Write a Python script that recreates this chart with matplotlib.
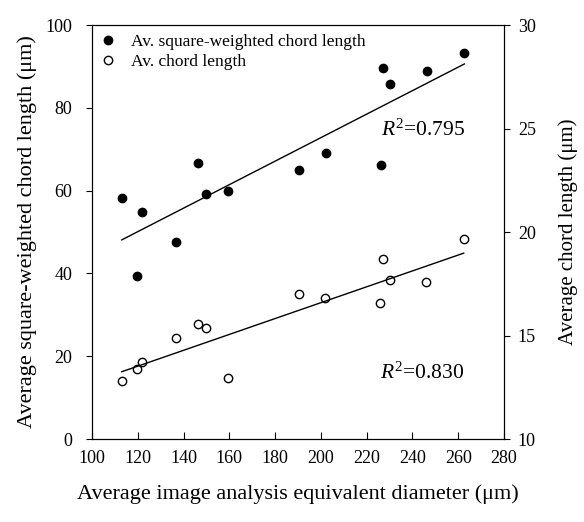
import numpy as np
import matplotlib
matplotlib.use("Agg")
import matplotlib.pyplot as plt

plt.rcParams['font.family'] = ['Liberation Serif', 'DejaVu Serif']
plt.rcParams['mathtext.fontset'] = 'custom'
plt.rcParams['mathtext.rm'] = 'Liberation Serif'
plt.rcParams['mathtext.it'] = 'Liberation Serif:italic'

# Data
diam_sq = [113.0, 119.7, 122.0, 136.6, 146.3, 149.8, 159.4, 190.4, 202.1, 226.1, 227.1, 230.2, 246.3, 262.7]
sq_chord = [58.1, 39.4, 54.8, 47.5, 66.7, 59.1, 60.0, 65.0, 69.2, 66.3, 89.7, 85.7, 89.0, 93.3]

diam_ch = [113.0, 119.7, 122.0, 136.6, 146.3, 149.8, 159.4, 190.4, 202.0, 226.0, 227.0, 230.0, 246.0, 262.4]
chord = [12.8, 13.38, 13.72, 14.86, 15.56, 15.35, 12.95, 16.99, 16.83, 16.55, 18.68, 17.67, 17.6, 19.66]

# Fit line endpoints (x, y)
fit_sq_x = [113.0, 262.7]
fit_sq_y = [48.1, 90.6]
fit_ch_x = [113.0, 262.4]
fit_ch_y = [13.25, 18.98]

r2_labels = ['$R^2$=0.795', '$R^2$=0.830']
xticks = [100, 120, 140, 160, 180, 200, 220, 240, 260, 280]
yticks_left = [0, 20, 40, 60, 80, 100]
yticks_right = [10, 15, 20, 25, 30]

fig = plt.figure(figsize=(5.84, 5.22), dpi=100)
ax = fig.add_axes([0.1575, 0.159, 0.863 - 0.1575, 0.952 - 0.159])
ax2 = ax.twinx()

h1, = ax.plot(diam_sq, sq_chord, 'o', color='black', markersize=6, linestyle='none',
              label='Av. square-weighted chord length')
ax.plot(fit_sq_x, fit_sq_y, '-', color='black', linewidth=1.0)
h2, = ax2.plot(diam_ch, chord, 'o', markerfacecolor='white', markeredgecolor='black',
               markeredgewidth=1.0, markersize=6, linestyle='none', label='Av. chord length')
ax2.plot(fit_ch_x, fit_ch_y, '-', color='black', linewidth=1.0)

ax.set_xlim(100, 280)
ax.set_ylim(0, 100)
ax2.set_ylim(10, 30)
ax.set_xticks(xticks)
ax.set_yticks(yticks_left)
ax2.set_yticks(yticks_right)

ax.tick_params(axis='x', direction='in', length=5, labelsize=13, pad=8)
ax.tick_params(axis='y', direction='out', length=4, labelsize=13, pad=10)
ax2.tick_params(axis='y', direction='out', length=4, labelsize=13, pad=6)

ax.set_xlabel('Average image analysis equivalent diameter (\u03bcm)', fontsize=16, labelpad=12)
ax.set_ylabel('Average square-weighted chord length (\u03bcm)', fontsize=16, labelpad=6)
ax2.set_ylabel('Average chord length (\u03bcm)', fontsize=15, labelpad=16)

ax.text(0.905, 0.746, r2_labels[0], transform=ax.transAxes, fontsize=15.5, ha='right', va='center')
ax.text(0.905, 0.159, r2_labels[1], transform=ax.transAxes, fontsize=15.5, ha='right', va='center')

leg = ax.legend(handles=[h1, h2], loc='upper left', frameon=False, fontsize=12.5,
                handlelength=0.8, handletextpad=0.95, borderaxespad=0.2, labelspacing=0.25,
                borderpad=0.3)

for a in (ax, ax2):
    for s in a.spines.values():
        s.set_linewidth(0.8)

fig.savefig('out.png', dpi=100)
